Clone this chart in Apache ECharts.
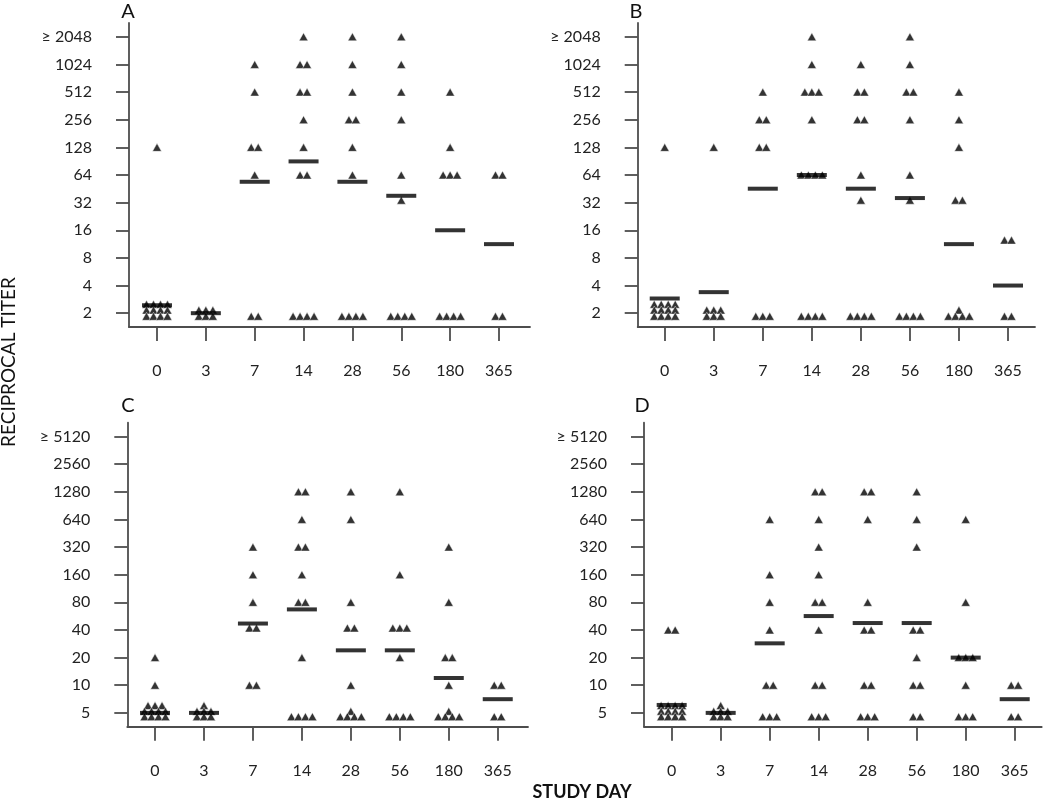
<!DOCTYPE html>
<html><head><meta charset="utf-8">
<script src="https://cdn.jsdelivr.net/npm/echarts@6/dist/echarts.min.js"></script>
<style>html,body{margin:0;padding:0;background:#fff}#c{width:1050px;height:804px}</style>
</head><body><div id="c"></div>
<script>
// ---- DATA ----
const days = ['0', '3', '7', '14', '28', '56', '180', '365'];
const tickLabelsAB = ['2', '4', '8', '16', '32', '64', '128', '256', '512', '1024', '≥ 2048'];
const tickLabelsCD = ['5', '10', '20', '40', '80', '160', '320', '640', '1280', '2560', '≥ 5120'];
const baseAB = 2;
const baseCD = 5;

// individual titers per study day (one inner list per day)
const titersA = [
  [128, 2.5, 2.5, 2.5, 2.5, 2.16, 2.16, 2.16, 2.16, 1.85, 1.85, 1.85, 1.85],
  [2.16, 2.16, 2.16, 1.85, 1.85, 1.85],
  [1024, 512, 128, 128, 64, 1.85, 1.85],
  [2048, 1024, 1024, 512, 512, 256, 128, 64, 64, 1.85, 1.85, 1.85, 1.85],
  [2048, 1024, 512, 256, 256, 128, 64, 1.85, 1.85, 1.85, 1.85],
  [2048, 1024, 512, 256, 64, 34, 1.85, 1.85, 1.85, 1.85],
  [512, 128, 64, 64, 64, 1.85, 1.85, 1.85, 1.85],
  [64, 64, 1.85, 1.85]
];
const meansA = [2.44, 2.0, 54, 90, 54, 38, 16, 11.3];

const titersB = [
  [128, 2.5, 2.5, 2.5, 2.5, 2.16, 2.16, 2.16, 2.16, 1.85, 1.85, 1.85, 1.85],
  [128, 2.16, 2.16, 2.16, 1.85, 1.85, 1.85],
  [512, 256, 256, 128, 128, 1.85, 1.85, 1.85],
  [2048, 1024, 512, 512, 512, 256, 64, 64, 64, 64, 1.85, 1.85, 1.85, 1.85],
  [1024, 512, 512, 256, 256, 64, 34, 1.85, 1.85, 1.85, 1.85],
  [2048, 1024, 512, 512, 256, 64, 34, 1.85, 1.85, 1.85, 1.85],
  [512, 256, 128, 34, 34, 2.16, 1.85, 1.85, 1.85, 1.85],
  [12.5, 12.5, 1.85, 1.85]
];
const meansB = [2.89, 3.39, 45.4, 64, 45.4, 35.9, 11.3, 4.0];

const titersC = [
  [20, 10, 6.0, 6.0, 6.0, 5.2, 5.2, 5.2, 5.2, 4.55, 4.55, 4.55, 4.55],
  [6.0, 5.2, 5.2, 5.2, 4.55, 4.55, 4.55],
  [320, 160, 80, 42, 42, 10, 10],
  [1280, 1280, 640, 320, 320, 160, 80, 80, 20, 4.55, 4.55, 4.55, 4.55],
  [1280, 640, 80, 42, 42, 10, 5.2, 4.55, 4.55, 4.55, 4.55],
  [1280, 160, 42, 42, 42, 20, 4.55, 4.55, 4.55, 4.55],
  [320, 80, 20, 20, 10, 5.2, 4.55, 4.55, 4.55, 4.55],
  [10, 10, 4.55, 4.55]
];
const meansC = [5.0, 5.0, 47, 67, 24, 24, 12, 7.05];

const titersD = [
  [40, 40, 6.0, 6.0, 6.0, 6.0, 5.2, 5.2, 5.2, 5.2, 4.55, 4.55, 4.55, 4.55],
  [6.0, 5.2, 5.2, 5.2, 4.55, 4.55, 4.55],
  [640, 160, 80, 40, 10, 10, 4.55, 4.55, 4.55],
  [1280, 1280, 640, 320, 160, 80, 80, 40, 10, 10, 4.55, 4.55, 4.55],
  [1280, 1280, 640, 80, 40, 40, 10, 10, 4.55, 4.55, 4.55],
  [1280, 640, 320, 40, 40, 20, 10, 10, 4.55, 4.55],
  [640, 80, 20, 20, 20, 10, 4.55, 4.55, 4.55],
  [10, 10, 4.55, 4.55]
];
const meansD = [6.1, 5.0, 28.6, 56.7, 47.6, 47.6, 20, 7.05];

// ---- LAYOUT / STYLE ----
const FONT = 'Lato, "Open Sans", sans-serif';
const AXIS_COLOR = '#4d4d4d';
const TEXT_COLOR = '#222';
const panels = [
  {letter: 'A', titers: titersA, means: meansA, base: baseAB, labels: tickLabelsAB,
   grid: {left: 129, top: 23, width: 401, height: 304}, xr: [-0.573, 7.635], lp: [128, 12]},
  {letter: 'B', titers: titersB, means: meansB, base: baseAB, labels: tickLabelsAB,
   grid: {left: 637.7, top: 23, width: 397.3, height: 304}, xr: [-0.551, 7.551], lp: [636, 12]},
  {letter: 'C', titers: titersC, means: meansC, base: baseCD, labels: tickLabelsCD,
   grid: {left: 127.3, top: 422.7, width: 400.7, height: 304}, xr: [-0.566, 7.618], lp: [128, 406]},
  {letter: 'D', titers: titersD, means: meansD, base: baseCD, labels: tickLabelsCD,
   grid: {left: 644, top: 422.7, width: 397.7, height: 304}, xr: [-0.565, 7.551], lp: [642, 406]}
];

const option = {animation: false, backgroundColor: '#fff', grid: [], xAxis: [], yAxis: [], series: [], graphic: []};
const lineStyle = {color: AXIS_COLOR, width: 1.8};
const xIdx = days.map((d, i) => i);

panels.forEach((p, k) => {
  const yIdx = p.labels.map((l, i) => i);
  option.grid.push(Object.assign({containLabel: false, outerBoundsMode: 'none'}, p.grid));
  option.xAxis.push({
    type: 'value', gridIndex: k, min: p.xr[0], max: p.xr[1],
    axisLine: {show: true, onZero: false, lineStyle},
    axisTick: {show: true, length: 14, customValues: xIdx, lineStyle},
    axisLabel: {customValues: xIdx, formatter: v => days[Math.round(v)], margin: 36,
                fontSize: 16, fontFamily: FONT, color: TEXT_COLOR},
    splitLine: {show: false}
  });
  option.yAxis.push({
    type: 'value', gridIndex: k, min: -0.5, max: 10.5,
    axisLine: {show: true, onZero: false, lineStyle},
    axisTick: {show: true, length: 13, customValues: yIdx, lineStyle},
    axisLabel: {customValues: yIdx, formatter: v => p.labels[Math.round(v)], margin: 37,
                fontSize: 16, fontFamily: FONT, color: TEXT_COLOR},
    splitLine: {show: false}
  });
  const pts = [];
  p.titers.forEach((vals, di) => {
    const groups = new Map();
    vals.forEach(v => groups.set(v, (groups.get(v) || 0) + 1));
    groups.forEach((n, v) => {
      for (let i = 0; i < n; i++) {
        pts.push({value: [di, Math.log2(v / p.base)], symbolOffset: [(i - (n - 1) / 2) * 7, 0]});
      }
    });
  });
  option.series.push({
    type: 'scatter', xAxisIndex: k, yAxisIndex: k, symbol: 'triangle', symbolSize: [9, 8],
    data: pts, itemStyle: {color: '#000', borderColor: '#fff', borderWidth: 0.6}, z: 3
  });
  option.series.push({
    type: 'scatter', xAxisIndex: k, yAxisIndex: k, symbol: 'rect', symbolSize: [30, 4],
    data: p.means.map((m, i) => [i, Math.log2(m / p.base)]), itemStyle: {color: '#000'}, z: 4
  });
  option.graphic.push({type: 'text', x: p.lp[0], y: p.lp[1],
    style: {text: p.letter, font: '20px ' + FONT, fill: '#111', align: 'center', verticalAlign: 'middle'}});
});

option.graphic.push({type: 'text', x: 9, y: 362, rotation: Math.PI / 2,
  style: {text: 'RECIPROCAL TITER', font: '19px ' + FONT, fill: '#111', align: 'center', verticalAlign: 'middle'}});
option.graphic.push({type: 'text', x: 582, y: 792,
  style: {text: 'STUDY DAY', font: 'bold 18px ' + FONT, fill: '#111', align: 'center', verticalAlign: 'middle'}});

const chart = echarts.init(document.getElementById('c'), null, {renderer: 'canvas'});
chart.setOption(option);
</script>
</body></html>
